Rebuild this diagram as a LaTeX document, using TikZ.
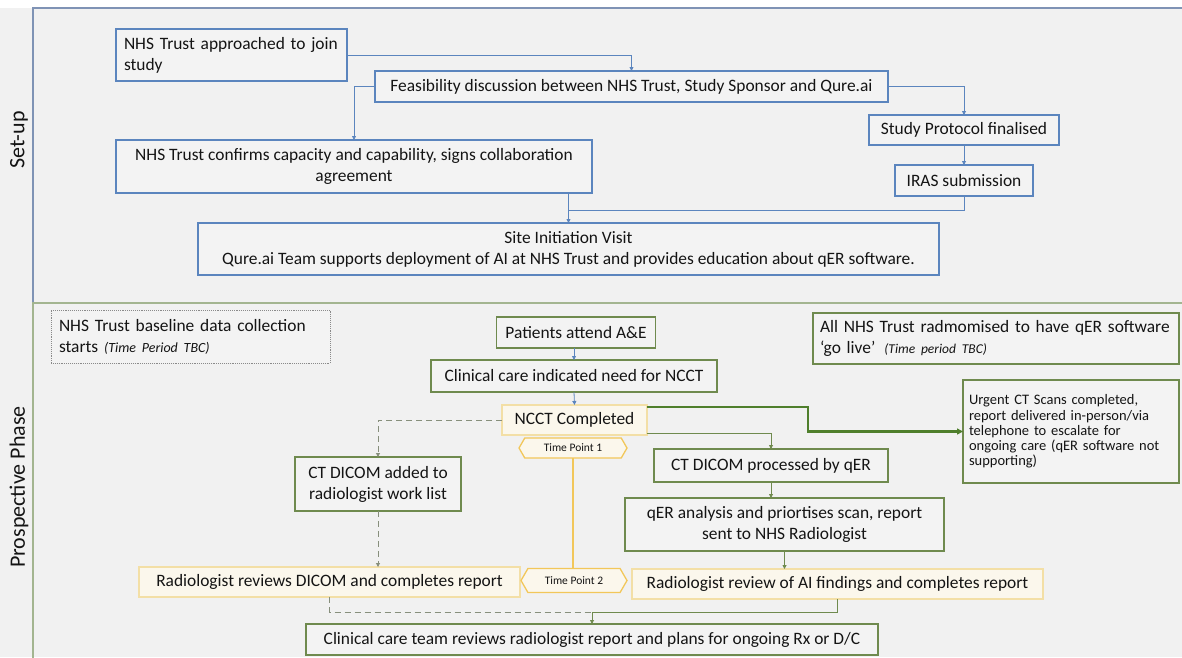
\documentclass[tikz,border=0pt]{standalone}
\usepackage{fontspec}
\setmainfont{Carlito}
\usetikzlibrary{shapes.symbols,arrows.meta,calc}
\definecolor{bluebd}{HTML}{5B85BE}
\definecolor{greenbd}{HTML}{6F8A4E}
\definecolor{yelbd}{HTML}{F3DFA6}
\definecolor{yelfill}{HTML}{FBF7EC}
\definecolor{goldbd}{HTML}{F2C75A}
\definecolor{bg}{HTML}{F1F1F1}
\definecolor{boxfill}{HTML}{F3F3F3}
\definecolor{topframe}{HTML}{7F93B5}
\definecolor{botframe}{HTML}{A3B590}
\definecolor{thickgreen}{HTML}{4F7F2C}
\definecolor{dashgray}{HTML}{878F7C}
\definecolor{dotgray}{HTML}{8A8A8A}
\definecolor{txt}{HTML}{141414}
\begin{document}
\begin{tikzpicture}[x=1pt,y=-1pt,
  every node/.style={font=\fontsize{17.4}{21}\selectfont, text=txt, inner sep=0pt, outer sep=0pt},
  bbox/.style={draw=bluebd, line width=1.1pt, fill=boxfill, align=center},
  gbox/.style={draw=greenbd, line width=1.1pt, fill=boxfill, align=center},
  ybox/.style={draw=yelbd, line width=1.1pt, fill=yelfill, align=center},
  dotbox/.style={draw=dotgray, line width=0.9pt, densely dotted, fill=boxfill, align=left},
  tpoint/.style={draw=goldbd, line width=1.3pt, fill=yelfill, shape=signal, signal to=east and west, signal pointer angle=120, font=\fontsize{11.5}{13}\selectfont},
  bline/.style={draw=bluebd, line width=0.8pt, -{Triangle[length=4pt,width=4pt]}},
  blinep/.style={draw=bluebd, line width=0.8pt},
  gline/.style={draw=greenbd, line width=0.9pt},
  garrow/.style={draw=greenbd, line width=0.9pt, -{Triangle[length=4pt,width=4pt]}},
  dline/.style={draw=dashgray, line width=0.9pt, dash pattern=on 6pt off 4pt},
  darrow/.style={draw=dashgray, line width=0.9pt, dash pattern=on 6pt off 4pt, -{Triangle[length=4pt,width=4pt]}},
  label/.style={rotate=90, font=\fontsize{22}{26}\selectfont}
]
\useasboundingbox (0,0) rectangle (1182,657);
\clip (0,0) rectangle (1182,657);
\fill[bg] (0,0) rectangle (1182,657);
\fill[white] (0,0) rectangle (1182,8);
% panels
\draw[topframe, line width=1.2pt] (33,8) rectangle (1200,303);
\draw[botframe, line width=1.2pt] (33,303) rectangle (1200,680);
\node[label] (lsetup) at (19,140) {Set-up};
\node[label] (lprosp) at (19,487) {Prospective Phase};

% Set-up boxes
\node[bbox, minimum width=231, minimum height=52, text width=215, align=left] (A) at (231.5,55) {NHS Trust approached to join\\study};
\node[bbox, minimum width=513, minimum height=31] (B) at (631.5,86.5) {Feasibility discussion between NHS Trust, Study Sponsor and Qure.ai};
\node[bbox, minimum width=476, minimum height=53] (C) at (354,166.5) {NHS Trust confirms capacity and capability, signs collaboration\\agreement};
\node[bbox, minimum width=190, minimum height=30] (D) at (964,130) {Study Protocol finalised};
\node[bbox, minimum width=138, minimum height=31] (E) at (964,180.5) {IRAS submission};
\node[bbox, minimum width=741, minimum height=52] (F) at (568.5,249) {Site Initiation Visit\\Qure.ai Team supports deployment of AI at NHS Trust and provides education about qER software.};

\draw[bline] (A.east) -| (B.north);
\draw[bline] (B.west) -| (C.north);
\draw[bline] (B.east) -| (D.north);
\draw[bline] (D.south) -- (E.north);
\draw[blinep] (E.south) |- ($(F.north)+(0,-13)$);
\draw[bline] (F.north |- C.south) -- (F.north);

% Prospective boxes
\node[dotbox, minimum width=279, minimum height=53, text width=263] (G) at (190.5,336.5) {NHS Trust baseline data collection\\starts {\fontsize{14}{16}\selectfont\itshape (Time Period TBC)}};
\node[gbox, minimum width=159, minimum height=31] (H) at (576,332.5) {Patients attend A\&E};
\node[gbox, minimum width=286, minimum height=32] (I) at (574,376) {Clinical care indicated need for NCCT};
\node[ybox, minimum width=145, minimum height=30] (J) at (574.5,420) {NCCT Completed};
\node[tpoint, minimum width=108, minimum height=20] (TP1) at (573,448) {Time Point 1};
\node[gbox, minimum width=166, minimum height=54] (K) at (378,484) {CT DICOM added to\\radiologist work list};
\node[ybox, minimum width=381, minimum height=30] (L) at (329.5,582) {Radiologist reviews DICOM and completes report};
\node[tpoint, minimum width=106, minimum height=24] (TP2) at (574,580.5) {Time Point 2};
\node[gbox, minimum width=234, minimum height=33] (M) at (771,465.5) {CT DICOM processed by qER};
\node[gbox, minimum width=319, minimum height=53] (O) at (784.5,524.5) {qER analysis and priortises scan, report\\sent to NHS Radiologist};
\node[ybox, minimum width=411, minimum height=30] (P) at (837.5,584) {Radiologist review of AI findings and completes report};
\node[gbox, minimum width=572, minimum height=31] (N) at (592,639.5) {Clinical care team reviews radiologist report and plans for ongoing Rx or D/C};
\node[gbox, minimum width=366, minimum height=51, text width=352, align=left] (Q) at (996,338.5) {All NHS Trust radmomised to have qER software\\‘go live’\hspace{9pt}{\fontsize{13.5}{16}\selectfont\itshape (Time period TBC)}};
\node[gbox, minimum width=216, minimum height=103, text width=204, align=left, font=\fontsize{14.5}{15.2}\selectfont] (R) at (1071,431.5) {Urgent CT Scans completed,\\report delivered in-person/via\\telephone to escalate for\\ongoing care (qER software not\\supporting)};

% connectors
\draw[bline] (I.north |- H.south) -- (I.north);
\draw[bline] (I.south) -- (J.north);
\draw[darrow] (J.west) -| (K.north);
\draw[darrow] (K.south) -- (K.south |- L.north);
\draw[dline] (L.south) |- ($(N.north)+(0,-12)$);
\draw[gline] (P.south) |- ($(N.north)+(0,-12)$);
\draw[garrow] ($(N.north)+(0,-12)$) -- (N.north);
\draw[garrow] ([yshift=1.5]J.south east) -| (M.north);
\draw[thickgreen, line width=2.4pt, -{Triangle[length=6pt,width=6pt]}] ([yshift=-2]J.north east) -| ([xshift=-155]R.west) -- (R.west);
\draw[garrow] (M.south) -- (M.south |- O.north);
\draw[garrow] (O.south) -- (O.south |- P.north);
\draw[goldbd, line width=1.3pt] (TP1.south) -- (TP1.south |- TP2.north);
\end{tikzpicture}
\end{document}
